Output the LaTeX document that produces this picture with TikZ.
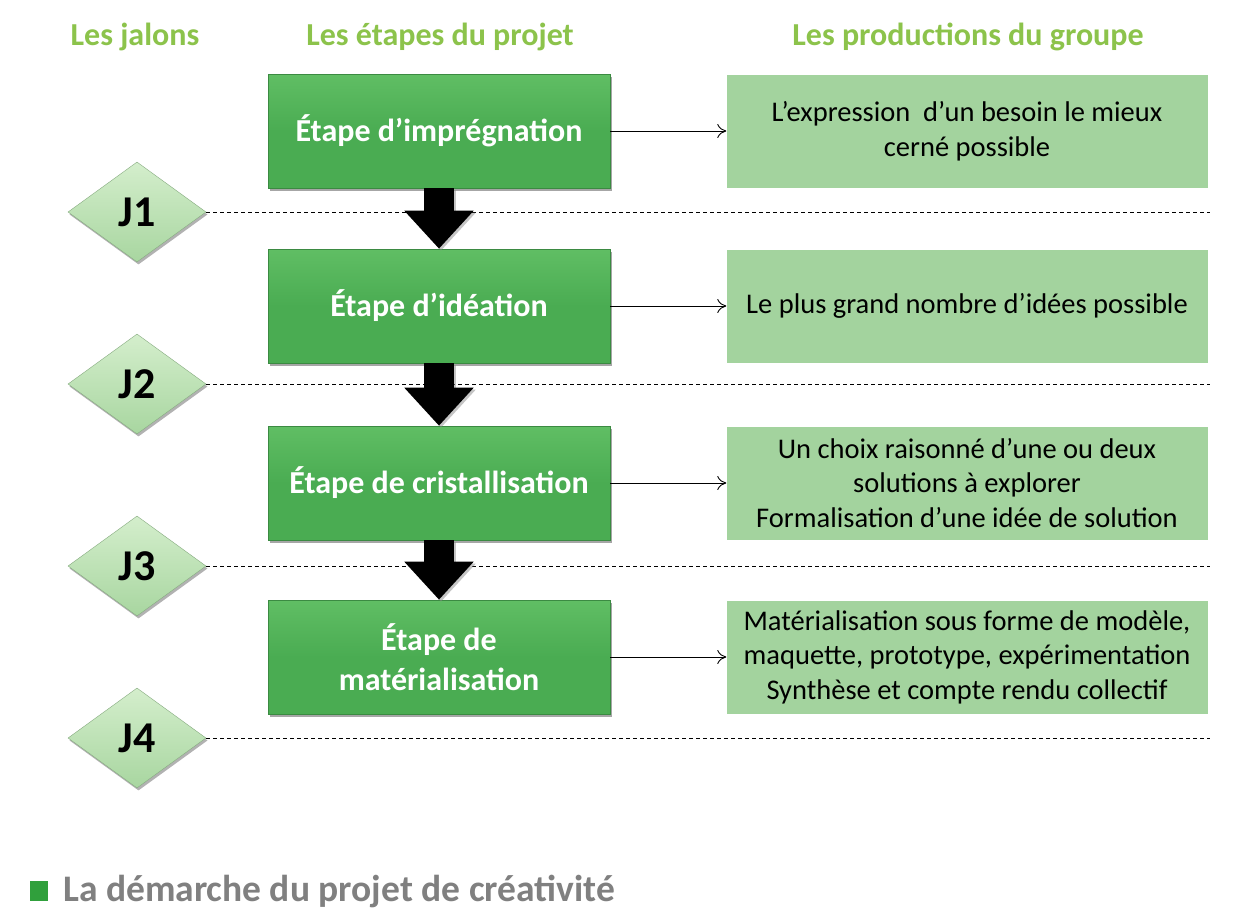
\documentclass[tikz,border=0pt]{standalone}
\usepackage{fontspec}
\setmainfont{Carlito}
\usetikzlibrary{shapes.geometric,arrows.meta,shadows}
\definecolor{hdr}{RGB}{140,195,75}
\definecolor{stepg}{RGB}{74,172,82}
\definecolor{stepgl}{RGB}{96,190,100}
\definecolor{prodg}{RGB}{163,211,158}
\definecolor{diamt}{RGB}{212,238,204}
\definecolor{diamb}{RGB}{168,214,160}
\definecolor{capgray}{RGB}{128,128,128}
\definecolor{capgreen}{RGB}{48,160,60}
\tikzset{
  hdrtext/.style={text=hdr, font=\fontsize{32bp}{36bp}\selectfont\bfseries},
  stepbox/.style={minimum width=342bp, minimum height=114bp, inner sep=0pt,
    top color=stepgl, bottom color=stepg, middle color=stepg, draw=stepg!80!black, line width=0.6bp,
    text=white, align=center, font=\fontsize{32bp}{40bp}\selectfont\bfseries,
    drop shadow={shadow xshift=2bp, shadow yshift=-3bp, fill=black, opacity=0.35}},
  prodbox/.style={minimum width=481bp, minimum height=113bp, inner sep=0pt,
    fill=prodg, align=center, font=\fontsize{28.5bp}{34.5bp}\selectfont},
  jalon/.style={diamond, minimum width=138bp, minimum height=100bp, inner sep=0pt,
    top color=diamt, bottom color=diamb, draw=diamb!80!black, line width=0.4bp,
    font=\fontsize{44bp}{48bp}\selectfont\bfseries,
    drop shadow={shadow xshift=1.5bp, shadow yshift=-2.5bp, fill=black, opacity=0.3}},
  flow/.style={-{To[length=9bp,width=14bp]}, line width=0.9bp},
  bigarrow/.style={line width=30bp, -{Triangle[width=67bp,length=38bp]}, draw=black},
  guide/.style={dash pattern=on 4bp off 3bp, line width=0.8bp},
}
\begin{document}
\begin{tikzpicture}[x=1bp,y=-1bp]
\fill[white] (0,0) rectangle (1238,923);
\useasboundingbox (0,0) rectangle (1238,923);

\node[hdrtext] (h1) at (135,37) {Les jalons};
\node[hdrtext] (h2) at (440,37) {Les étapes du projet};
\node[hdrtext] (h3) at (968,37) {Les productions du groupe};

\node[stepbox] (g1) at (439,131) {Étape d’imprégnation};
\node[stepbox] (g2) at (439,306) {Étape d’idéation};
\node[stepbox] (g3) at (439,483) {Étape de cristallisation};
\node[stepbox] (g4) at (439,657) {Étape de\\matérialisation};

\node[prodbox] (p1) at (967,131) {L’expression \ d’un besoin le mieux\\cerné possible};
\node[prodbox] (p2) at (967,306) {Le plus grand nombre d’idées possible};
\node[prodbox] (p3) at (967,483) {Un choix raisonné d’une ou deux\\solutions à explorer\\Formalisation d’une idée de solution};
\node[prodbox] (p4) at (967,657) {Matérialisation sous forme de modèle,\\maquette, prototype, expérimentation\\Synthèse et compte rendu collectif};

\foreach \i in {1,...,4} { \draw[flow] (g\i.east) -- (p\i.west); }

\node[jalon] (j1) at (137,212) {J1};
\node[jalon] (j2) at (137,384) {J2};
\node[jalon] (j3) at (137,566) {J3};
\node[jalon] (j4) at (137,738) {J4};

\coordinate (e1) at (1210,212);
\coordinate (e2) at (1210,384);
\coordinate (e3) at (1210,566);
\coordinate (e4) at (1210,738);
\foreach \i in {1,...,4} { \draw[guide] (j\i.east) -- (e\i); }

\foreach \a/\b in {1/2,2/3,3/4} {
  \draw[bigarrow, draw=black!45, opacity=0.5, transform canvas={xshift=2bp,yshift=-2bp}] (g\a.south) -- (g\b.north);
  \draw[bigarrow] (g\a.south) -- (g\b.north);
}

\node[fill=capgreen, minimum width=18bp, minimum height=20bp, inner sep=0pt] (sq) at (39,891) {};
\node[anchor=west, text=capgray, font=\fontsize{37.5bp}{40bp}\selectfont\bfseries, inner sep=0pt] (cap) at (63,891) {La démarche du projet de créativité};
\end{tikzpicture}
\end{document}
